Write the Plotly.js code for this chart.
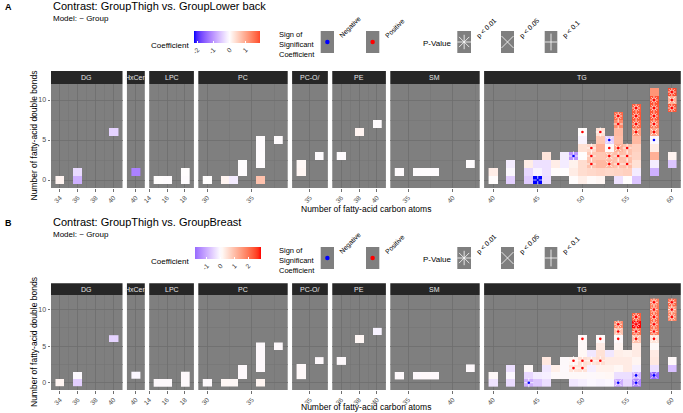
<!DOCTYPE html>
<html><head><meta charset="utf-8">
<script src="https://cdn.plot.ly/plotly-3.0.1.min.js"></script>
<style>html,body{margin:0;padding:0;background:#fff}#chart{width:683px;height:413px}</style>
</head><body><div id="chart"></div>
<script>
// ================= DATA =================
const facetNames = ["DG","HxCer","LPC","PC","PC-O/","PE","SM","TG"];
const panelLetters = ["A","B"];
const panelTitles = ["Contrast: GroupThigh vs. GroupLower back","Contrast: GroupThigh vs. GroupBreast"];
const modelText = "Model: ~ Group";
const xAxisTitle = "Number of fatty-acid carbon atoms";
const yAxisTitle = "Number of fatty-acid double bonds";
const colorbarTicksA = [-2,-1,0,1];
const colorbarTicksB = [-1,0,1,2];
const signLabels = ["Negative","Positive"];
const pLabels = ["p < 0.01","p < 0.05","p < 0.1"];
// x tick values per facet
const facetTickVals = [[34,36,38,40],[40],[14,16,18],[30,35],[35],[36,38,40],[35,40],[40,45,50,55,60]];
const facetMinorVals = [[33,35,37,39,41],[],[15,17,19],[32.5,37.5],[],[35,37,39,41],[37.5,42.5],[42.5,47.5,52.5,57.5]];
const yTickVals = [0,5,10];

// rows: [carbon atoms, double bonds, coefficient, p class (0 n.s., 1 p<0.1, 2 p<0.05, 3 p<0.01)]
const A_DG = [[34,0,0.12,0],[36,0,-0.75,0],[36,1,-0.35,0],[40,6,-0.42,0]];
const A_HxCer = [[40,1,-1.2,0]];
const A_LPC = [[15,0,0.02,0],[16,0,0.0,0],[18,0,0.0,0],[18,1,0.02,0]];
const A_PC = [[30,0,0.02,0],[32,0,0.12,0],[33,0,-0.18,0],[34,1,0.0,0],[34,2,0.01,0],[36,0,0.7,0],[36,2,0.0,0],[36,3,0.01,0],[36,4,0.0,0],[36,5,0.0,0],[38,5,0.0,0]];
const A_PCO = [[34,1,0.1,0],[34,2,0.08,0],[36,3,0.0,0]];
const A_PE = [[36,3,0.0,0],[38,6,0.12,0],[40,7,0.0,0]];
const A_SM = [[34,1,0.0,0],[36,1,0.0,0],[37,1,0.01,0],[38,1,0.0,0],[42,2,0.0,0]];
const A_TG = [
 [40,0,0.03,0],[40,1,0.2,0],
 [42,0,-0.45,0],[42,1,-0.05,0],[42,2,-0.18,0],
 [44,0,-0.5,0],[44,1,-0.38,0],[44,2,0.2,0],
 [45,0,-2.2,1],[45,1,-0.1,0],[45,2,-0.28,0],
 [46,0,-0.32,0],[46,1,-0.28,0],[46,2,-0.28,0],[46,3,0.3,0],
 [47,1,0.03,0],[47,2,0.2,0],
 [48,1,0.02,0],[48,2,-0.18,0],[48,3,-0.18,0],
 [49,0,0.03,0],[49,1,0.22,0],[49,2,0.15,0],[49,3,-1.0,1],
 [50,0,0.18,0],[50,1,0.4,0],[50,2,0.4,0],[50,3,0.02,0],[50,4,0.35,0],[50,5,-0.1,0],[50,6,0.03,2],
 [51,0,0.05,0],[51,1,0.45,0],[51,2,0.7,1],[51,3,0.65,1],[51,4,0.45,1],
 [52,0,0.1,0],[52,1,0.5,0],[52,2,0.8,0],[52,3,0.65,0],[52,4,0.9,0],[52,5,0.65,0],[52,6,0.35,1],
 [53,1,0.45,0],[53,2,0.8,2],[53,3,0.7,2],[53,4,0.05,2],[53,5,-0.45,2],
 [54,0,-0.28,0],[54,1,0.5,0],[54,2,0.7,1],[54,3,0.75,1],[54,4,0.9,2],[54,5,0.75,0],[54,6,0.8,0],[54,7,1.3,1],[54,8,1.65,3],
 [55,0,0.02,0],[55,1,0.55,0],[55,2,0.75,1],[55,3,0.7,1],[55,4,0.7,1],
 [56,0,-0.55,0],[56,1,-0.18,0],[56,2,0.35,0],[56,3,0.5,0],[56,4,0.55,0],[56,5,0.8,0],[56,6,1.1,2],[56,7,1.65,3],[56,8,1.8,3],[56,9,1.75,3],
 [58,1,-0.75,0],[58,2,-0.18,0],[58,3,0.9,0],[58,4,0.22,0],[58,5,-0.05,2],[58,6,1.05,2],[58,7,1.5,3],[58,8,1.8,3],[58,9,1.8,3],[58,10,1.85,3],[58,11,1.2,0],
 [60,2,-0.55,0],[60,3,0.12,0],[60,9,1.8,3],[60,10,0.9,2],[60,11,1.9,3]
];

const B_DG = [[34,0,0.15,0],[36,0,-0.6,0],[36,1,-0.05,0],[40,6,-0.55,0]];
const B_HxCer = [[40,1,-0.1,0]];
const B_LPC = [[15,0,0.0,0],[16,0,0.0,0],[18,0,0.0,0],[18,1,0.0,0]];
const B_PC = [[30,0,0.0,0],[32,0,0.1,0],[33,0,0.08,0],[34,1,0.0,0],[34,2,0.0,0],[36,0,0.15,0],[36,2,0.0,0],[36,3,0.0,0],[36,4,0.0,0],[36,5,0.0,0],[38,5,0.0,0]];
const B_PCO = [[34,1,0.05,0],[34,2,0.03,0],[36,3,0.0,0]];
const B_PE = [[36,3,0.0,0],[38,6,0.1,0],[40,7,-0.15,0]];
const B_SM = [[34,1,0.0,0],[36,1,0.0,0],[37,1,0.03,0],[38,1,0.0,0],[42,2,0.0,0]];
const B_TG = [
 [40,0,-0.35,0],[40,1,0.05,0],
 [42,0,-0.45,0],[42,1,-0.1,0],[42,2,-0.4,0],
 [44,0,-1.0,1],[44,1,-0.5,0],[44,2,0.05,0],
 [45,0,-0.7,0],[45,1,-0.25,0],
 [46,0,-0.4,0],[46,1,-0.2,0],[46,2,-0.3,0],[46,3,0.35,0],
 [47,1,0.03,0],[47,2,0.25,0],
 [48,1,0.02,0],[48,2,0.0,0],[48,3,0.02,0],
 [49,0,-0.3,0],[49,1,0.05,0],[49,2,0.4,1],[49,3,0.15,1],
 [50,0,-0.2,0],[50,1,0.05,0],[50,2,0.45,1],[50,3,0.5,1],[50,4,0.1,0],[50,5,0.05,0],[50,6,0.05,2],
 [51,0,-0.1,0],[51,1,0.0,0],[51,2,-0.2,0],[51,3,0.4,1],[51,4,-0.3,0],
 [52,0,-0.15,0],[52,1,0.05,0],[52,2,0.2,0],[52,3,0.5,1],[52,4,0.45,0],[52,5,0.3,0],[52,6,0.05,2],
 [53,0,-0.1,0],[53,1,0.1,0],[53,2,0.2,0],[53,3,0.3,0],[53,4,-0.3,0],
 [54,0,-1.0,2],[54,1,-0.4,0],[54,2,0.1,0],[54,3,0.3,0],[54,4,0.25,0],[54,5,0.15,0],[54,6,0.02,2],[54,7,0.9,2],[54,8,1.8,3],
 [55,0,-0.5,0],[55,1,-0.4,0],[55,2,0.3,0],[55,3,0.3,0],[55,4,0.2,0],
 [56,0,-1.5,2],[56,1,-0.9,2],[56,2,-0.2,0],[56,3,0.15,0],[56,4,0.3,0],[56,5,0.3,0],[56,6,0.9,2],[56,7,2.1,3],[56,8,2.9,3],[56,9,2.3,3],
 [58,1,-1.86,2],[58,2,-0.4,0],[58,3,0.35,0],[58,4,0.3,0],[58,5,0.05,0],[58,6,0.4,2],[58,7,2.0,3],[58,8,2.1,3],[58,9,2.1,3],[58,10,2.0,3],[58,11,1.9,3],
 [60,2,-0.8,0],[60,3,0.05,0],[60,9,1.8,3],[60,10,1.6,3],[60,11,2.2,3]
];
const panelA = [A_DG,A_HxCer,A_LPC,A_PC,A_PCO,A_PE,A_SM,A_TG];
const panelB = [B_DG,B_HxCer,B_LPC,B_PC,B_PCO,B_PE,B_SM,B_TG];

// ================= LAYOUT GEOMETRY (px) =================
const W=683,H=413;
const facetRanges = [[33,41],[39,41],[14,19],[29,39],[33,37],[35,41],[33,43],[39,61]];
const unitPx=8.94, panelLeft=51, facetGap=4.4;
const panelGeom = [
  {stripTop:71, top:84, bottom:188, dy:0, xTitleY:209.5, cb:[194.3,260.7,31,43.3], cbTicks:colorbarTicksA},
  {stripTop:283.3, top:295, bottom:390, dy:216, xTitleY:407, cb:[195,260.7,247.3,259], cbTicks:colorbarTicksB}
];
const keyBoxes = [[320.7,334],[366,379.3],[457.3,471],[501,514],[544.7,557.3]]; // x extents, y 31..53 (+dy)
const pSymbols = ['', 'cross-thin-open','x-thin-open','asterisk-open'];

// ---- Lab colour ramp (blue - white - red), like scale_fill_gradient2 ----
function lin(c){c/=255;return c<=0.04045?c/12.92:Math.pow((c+0.055)/1.055,2.4);}
function delin(c){c=c<=0.0031308?12.92*c:1.055*Math.pow(c,1/2.4)-0.055;return Math.round(Math.max(0,Math.min(1,c))*255);}
function toLab(rgb){const R=lin(rgb[0]),G=lin(rgb[1]),B=lin(rgb[2]);
 let X=(0.4124*R+0.3576*G+0.1805*B)/0.95047,Y=(0.2126*R+0.7152*G+0.0722*B),Z=(0.0193*R+0.1192*G+0.9505*B)/1.08883;
 const f=t=>t>0.008856?Math.cbrt(t):7.787*t+16/116;const fx=f(X),fy=f(Y),fz=f(Z);
 return [116*fy-16,500*(fx-fy),200*(fy-fz)];}
function fromLab(l){const fy=(l[0]+16)/116,fx=fy+l[1]/500,fz=fy-l[2]/200;
 const fi=t=>{const t3=t*t*t;return t3>0.008856?t3:(t-16/116)/7.787;};
 const X=fi(fx)*0.95047,Y=fi(fy),Z=fi(fz)*1.08883;
 const R=3.2406*X-1.5372*Y-0.4986*Z,G=-0.9689*X+1.8758*Y+0.0415*Z,B=0.0557*X-0.2040*Y+1.0570*Z;
 return 'rgb('+delin(R)+','+delin(G)+','+delin(B)+')';}
const labLow=toLab([0,0,255]),labMid=toLab([255,255,255]),labHigh=toLab([255,0,0]);
function ramp(t){let a,b,u;if(t<0.5){a=labLow;b=labMid;u=t/0.5;}else{a=labMid;b=labHigh;u=(t-0.5)/0.5;}
 return fromLab([a[0]+(b[0]-a[0])*u,a[1]+(b[1]-a[1])*u,a[2]+(b[2]-a[2])*u]);}

function axId(k){return k===1?'':String(k);}
const traces=[];
const layout={width:W,height:H,margin:{l:0,r:0,t:0,b:0},paper_bgcolor:'#ffffff',plot_bgcolor:'#7f7f7f',
  showlegend:false,font:{family:'Liberation Sans, Arial, sans-serif',color:'#000'},annotations:[],shapes:[]};
function ann(text,px,py,o){return Object.assign({text:text,x:px/W,y:1-py/H,xref:'paper',yref:'paper',showarrow:false,
  xanchor:'left',yanchor:'middle',font:{size:8,color:'#000'}},o||{});}

[panelA,panelB].forEach((panel,p)=>{
  const g=panelGeom[p];
  let zmin=Infinity,zmax=-Infinity;
  panel.forEach(rows=>rows.forEach(r=>{zmin=Math.min(zmin,r[2]);zmax=Math.max(zmax,r[2]);}));
  const M=Math.max(Math.abs(zmin),Math.abs(zmax));
  const cs=[];for(let i=0;i<=24;i++){const f=i/24,v=zmin+(zmax-zmin)*f;cs.push([f,ramp(0.5+v/(2*M))]);}
  let left=panelLeft;
  panel.forEach((rows,f)=>{
    const k=p*8+f+1,id=axId(k);
    const wUnits=facetRanges[f][1]-facetRanges[f][0];
    const x0=left,x1=left+wUnits*unitPx;left=x1+facetGap;
    const cs_=rows.map(r=>r[0]),bs=rows.map(r=>r[1]);
    const cmin=Math.min(...cs_),cmax=Math.max(...cs_),bmin=Math.min(...bs),bmax=Math.max(...bs);
    const z=[];for(let b=bmin;b<=bmax;b++){const row=[];for(let c=cmin;c<=cmax;c++)row.push(null);z.push(row);}
    rows.forEach(r=>{z[r[1]-bmin][r[0]-cmin]=r[2];});
    const tr={type:'heatmap',z:z,x0:cmin,dx:1,y0:bmin,dy:1,xaxis:'x'+id,yaxis:'y'+id,zmin:zmin,zmax:zmax,
      colorscale:cs,showscale:f===0,hoverinfo:'skip',xgap:0,ygap:0};
    if(f===0){const c=g.cb;tr.colorbar={orientation:'h',x:c[0]/W,xanchor:'left',y:1-c[2]/H,yanchor:'top',
      len:c[1]-c[0],lenmode:'pixels',thickness:c[3]-c[2],thicknessmode:'pixels',outlinewidth:0,xpad:0,ypad:0,
      tickmode:'array',tickvals:g.cbTicks,ticktext:g.cbTicks.map(String),ticks:'inside',ticklen:2,tickcolor:'#ffffff',
      tickfont:{size:6.5,color:'#333'},tickangle:-45,title:{text:''}};}
    traces.push(tr);
    const sig=rows.filter(r=>r[3]>0);
    if(sig.length){
      traces.push({type:'scatter',mode:'markers',x:sig.map(r=>r[0]),y:sig.map(r=>r[1]),xaxis:'x'+id,yaxis:'y'+id,hoverinfo:'skip',
        marker:{symbol:sig.map(r=>pSymbols[r[3]]),size:6.5,color:'rgba(255,255,255,0.85)',line:{color:'rgba(255,255,255,0.85)',width:0.9}}});
      traces.push({type:'scatter',mode:'markers',x:sig.map(r=>r[0]),y:sig.map(r=>r[1]),xaxis:'x'+id,yaxis:'y'+id,hoverinfo:'skip',
        marker:{symbol:'circle',size:2.6,color:sig.map(r=>r[2]<0?'#0000ff':'#ff0000'),line:{width:0}}});
    }
    layout['xaxis'+id]={domain:[x0/W,x1/W],range:facetRanges[f],anchor:'y'+id,tickmode:'array',tickvals:facetTickVals[f],
      ticktext:facetTickVals[f].map(String),ticks:'outside',ticklen:2.5,tickwidth:0.7,tickcolor:'#333',tickangle:-45,
      tickfont:{size:6.5,color:'#4d4d4d'},showgrid:true,gridcolor:'#6e6e6e',gridwidth:0.8,zeroline:false,showline:false,fixedrange:true,
      minor:{tickmode:'array',tickvals:facetMinorVals[f],showgrid:true,gridcolor:'#747474',gridwidth:0.5,ticks:''}};
    layout['yaxis'+id]={domain:[1-g.bottom/H,1-g.top/H],range:[-1,12],anchor:'x'+id,tickmode:'array',tickvals:yTickVals,
      ticktext:yTickVals.map(String),showticklabels:f===0,ticks:f===0?'outside':'',ticklen:2.5,tickwidth:0.7,tickcolor:'#333',
      tickfont:{size:7,color:'#4d4d4d'},showgrid:true,gridcolor:'#6e6e6e',gridwidth:0.8,zeroline:false,showline:false,fixedrange:true,
      minor:{tickmode:'array',tickvals:[2.5,7.5],showgrid:true,gridcolor:'#747474',gridwidth:0.5,ticks:''}};
    layout.shapes.push({type:'rect',xref:'x'+id+' domain',x0:0,x1:1,yref:'paper',y0:1-g.top/H,y1:1-g.stripTop/H,
      fillcolor:'#262626',line:{width:0},layer:'above'});
    layout.annotations.push(ann(facetNames[f],(x0+x1)/2,(g.stripTop+g.top)/2,{xanchor:'center',font:{size:7,color:'#e6e6e6'}}));
  });
  const dy=g.dy;
  layout.annotations.push(ann('<b>'+panelLetters[p]+'</b>',2.5,6.7+dy,{font:{size:9,color:'#000'}}));
  layout.annotations.push(ann(panelTitles[p],50.5,5.6+dy,{font:{size:11,color:'#000'}}));
  layout.annotations.push(ann(modelText,50.5,18+dy,{font:{size:8,color:'#000'}}));
  layout.annotations.push(ann(xAxisTitle,366,g.xTitleY,{xanchor:'center',font:{size:8.5,color:'#000'}}));
  layout.annotations.push(ann(yAxisTitle,33.5,(g.top+g.bottom)/2,{xanchor:'center',textangle:-90,font:{size:8.5,color:'#000'}}));
  layout.annotations.push(ann('Coefficient',191,45+dy,{xanchor:'right',font:{size:8,color:'#000'}}));
  layout.annotations.push(ann('Sign of<br>Significant<br>Coefficient',276.5,44+dy,{align:'left',font:{size:7.5,color:'#000'}}));
  layout.annotations.push(ann('P-Value',421,43.5+dy,{font:{size:8,color:'#000'}}));
  const rotLab=[signLabels[0],signLabels[1],pLabels[0],pLabels[1],pLabels[2]];
  keyBoxes.forEach((b,i)=>{
    layout.annotations.push(ann(rotLab[i],b[1]+1.5,42.5+dy,{yanchor:'bottom',textangle:-45,font:{size:6.8,color:'#000'}}));
    const k=17+p*5+i,id=axId(k);
    layout['xaxis'+id]={domain:[b[0]/W,b[1]/W],range:[-1,1],visible:false,fixedrange:true,anchor:'y'+id};
    layout['yaxis'+id]={domain:[1-(53+dy)/H,1-(31+dy)/H],range:[-1,1],visible:false,fixedrange:true,anchor:'x'+id};
    const mk=i<2?{symbol:'circle',size:4.5,color:i===0?'#0000ff':'#ff0000',line:{width:0}}
      :{symbol:pSymbols[3-(i-2)],size:12,color:'rgba(255,255,255,0.8)',line:{color:'rgba(255,255,255,0.8)',width:1}};
    traces.push({type:'scatter',mode:'markers',x:[0],y:[0],xaxis:'x'+id,yaxis:'y'+id,hoverinfo:'skip',marker:mk});
  });
});

Plotly.newPlot('chart',traces,layout,{staticPlot:true,displayModeBar:false});
</script></body></html>
